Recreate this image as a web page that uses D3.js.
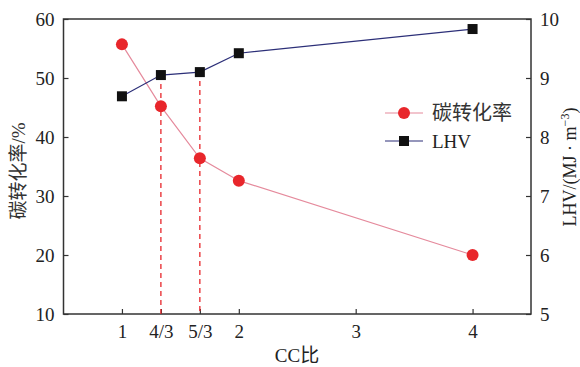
<!DOCTYPE html>
<html><head><meta charset="utf-8">
<script src="https://cdn.jsdelivr.net/npm/d3@7"></script>
<style>body{margin:0;background:#fff}svg{display:block}</style>
</head><body><svg id="c" width="580" height="367"></svg>
<script>
// CC ratio values and their tick labels
const ccRatio = [1, 4/3, 5/3, 2, 4];
const xTickValues = [1, 4/3, 5/3, 2, 3, 4];
const xTickLabels = ["1", "4/3", "5/3", "2", "3", "4"];
// Carbon conversion rate (%) and lower heating value (MJ/m^3)
const carbonConv = [55.7, 45.2, 36.4, 32.6, 20.0];
const lhv = [8.69, 9.05, 9.10, 9.42, 9.83];
// Ratios marked with dashed guide lines
const guideRatios = [4/3, 5/3];
const leftTicks = [10, 20, 30, 40, 50, 60];
const rightTicks = [5, 6, 7, 8, 9, 10];

const svg = d3.select("#c");
const L = 63.5, R = 531, T = 19, B = 314;
const serif = "'Liberation Serif', 'Times New Roman', serif";
const cjk = "'Noto Sans CJK SC', sans-serif";
const ink = "#333";

const x = d3.scaleLinear().domain([0.5, 4.5]).range([L, R]);
const yL = d3.scaleLinear().domain([10, 60]).range([B, T]);
const yR = d3.scaleLinear().domain([5, 10]).range([B, T]);

// frame
svg.append("rect").attr("x", L).attr("y", T).attr("width", R - L).attr("height", B - T)
  .attr("fill", "none").attr("stroke", ink).attr("stroke-width", 1.5);

function styleAxis(g) {
  g.attr("font-family", null).attr("font-size", null);
  g.select(".domain").remove();
  g.selectAll(".tick line").attr("stroke", ink).attr("stroke-width", 1.2);
  g.selectAll(".tick text").attr("fill", "#222").style("font-family", serif).style("font-size", "19px");
}

svg.append("g").attr("transform", `translate(0,${B})`)
  .call(d3.axisBottom(x).tickValues(xTickValues).tickFormat((d, i) => xTickLabels[i])
    .tickSizeInner(-5).tickSizeOuter(0).tickPadding(11))
  .call(styleAxis);

svg.append("g").attr("transform", `translate(${L},0)`)
  .call(d3.axisLeft(yL).tickValues(leftTicks).tickFormat(d3.format("d"))
    .tickSizeInner(-5).tickSizeOuter(0).tickPadding(9))
  .call(styleAxis);

svg.append("g").attr("transform", `translate(${R},0)`)
  .call(d3.axisRight(yR).tickValues(rightTicks).tickFormat(d3.format("d"))
    .tickSizeInner(-5).tickSizeOuter(0).tickPadding(9))
  .call(styleAxis);

// dashed guides from the LHV points down to the axis
guideRatios.forEach(r => {
  const i = ccRatio.indexOf(r);
  svg.append("line").attr("x1", x(r)).attr("x2", x(r))
    .attr("y1", yR(lhv[i])).attr("y2", B)
    .attr("stroke", "#e8262b").attr("stroke-width", 1.3).attr("stroke-dasharray", "5,4");
});

const pink = "#e58a9c", navy = "#2c2f78", red = "#e8262b";

svg.append("path").datum(ccRatio.map((c, i) => [c, carbonConv[i]]))
  .attr("d", d3.line().x(d => x(d[0])).y(d => yL(d[1])))
  .attr("fill", "none").attr("stroke", pink).attr("stroke-width", 1.2);
svg.append("path").datum(ccRatio.map((c, i) => [c, lhv[i]]))
  .attr("d", d3.line().x(d => x(d[0])).y(d => yR(d[1])))
  .attr("fill", "none").attr("stroke", navy).attr("stroke-width", 1.2);

svg.selectAll("circle.cc").data(ccRatio).enter().append("circle")
  .attr("cx", d => x(d)).attr("cy", (d, i) => yL(carbonConv[i])).attr("r", 6)
  .attr("fill", red);
svg.selectAll("rect.lhv").data(ccRatio).enter().append("rect")
  .attr("x", d => x(d) - 5).attr("y", (d, i) => yR(lhv[i]) - 5)
  .attr("width", 10).attr("height", 10).attr("fill", "#111");

// legend
const lg = svg.append("g");
lg.append("line").attr("x1", 385).attr("x2", 423).attr("y1", 113).attr("y2", 113).attr("stroke", pink).attr("stroke-width", 1.2);
lg.append("circle").attr("cx", 404).attr("cy", 113).attr("r", 6).attr("fill", red);
lg.append("text").attr("x", 432).attr("y", 120).text("碳转化率")
  .style("font-family", cjk).style("font-size", "20px").attr("fill", "#333");
lg.append("line").attr("x1", 385).attr("x2", 423).attr("y1", 141).attr("y2", 141).attr("stroke", navy).attr("stroke-width", 1.2);
lg.append("rect").attr("x", 399).attr("y", 136).attr("width", 10).attr("height", 10).attr("fill", "#111");
lg.append("text").attr("x", 432).attr("y", 148).text("LHV")
  .style("font-family", serif).style("font-size", "19px").attr("fill", "#222");

// axis titles
svg.append("text").attr("x", 297).attr("y", 362).attr("text-anchor", "middle")
  .style("font-size", "19px").attr("fill", "#222")
  .call(t => { t.append("tspan").style("font-family", serif).text("CC");
               t.append("tspan").style("font-family", cjk).text("比"); });

svg.append("text").attr("transform", "translate(25,171) rotate(-90)").attr("text-anchor", "middle")
  .style("font-size", "19px").attr("fill", "#333")
  .call(t => { t.append("tspan").style("font-family", cjk).text("碳转化率");
               t.append("tspan").style("font-family", serif).text("/%"); });

const rt = svg.append("text").attr("transform", "translate(576,167) rotate(-90)").attr("text-anchor", "middle")
  .style("font-family", serif).style("font-size", "18px").attr("fill", "#222");
rt.append("tspan").text("LHV/(MJ · m");
rt.append("tspan").attr("dy", -7).style("font-size", "12px").text("−3");
rt.append("tspan").attr("dy", 7).text(")");
</script></body></html>
